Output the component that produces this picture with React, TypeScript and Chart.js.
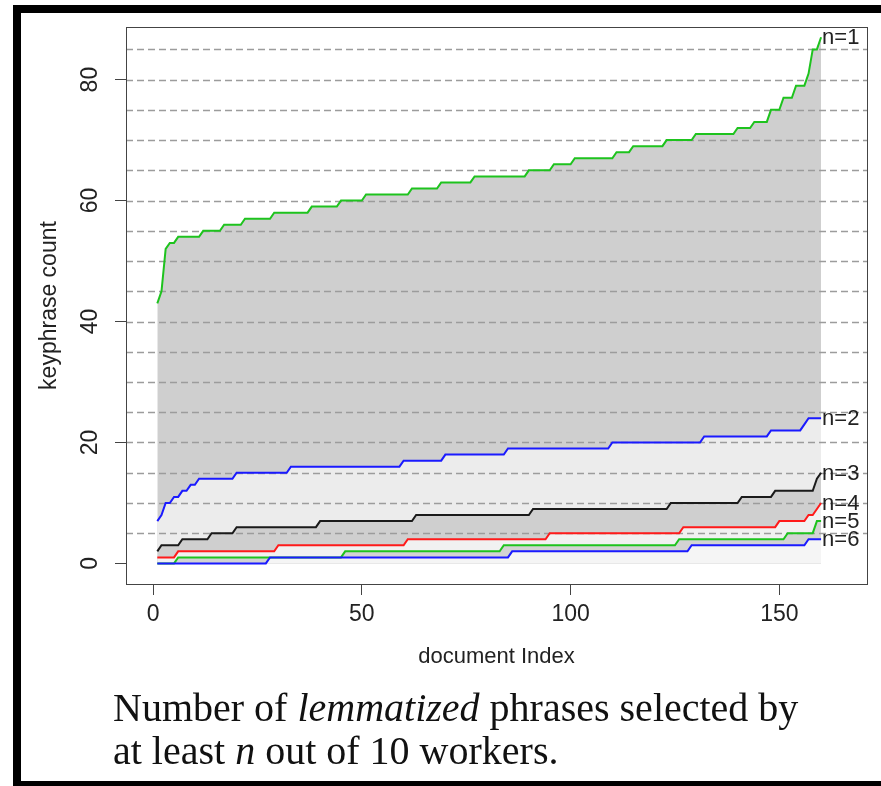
import React, { useEffect, useRef } from 'react';
import { Chart, registerables } from 'chart.js';

Chart.register(...registerables);

// ---- data ----
const xTicks = [0, 50, 100, 150];
const yTicks = [0, 20, 40, 60, 80];
const dashLevels = [5, 10, 15, 20, 25, 30, 35, 40, 45, 50, 55, 60, 65, 70, 75, 80, 85];
const seriesNames = ['n=1', 'n=2', 'n=3', 'n=4', 'n=5', 'n=6'];

const n1 = [
  43, 45, 52, 53, 53, 54, 54, 54, 54, 54,
  54, 55, 55, 55, 55, 55, 56, 56, 56, 56,
  56, 57, 57, 57, 57, 57, 57, 57, 58, 58,
  58, 58, 58, 58, 58, 58, 58, 59, 59, 59,
  59, 59, 59, 59, 60, 60, 60, 60, 60, 60,
  61, 61, 61, 61, 61, 61, 61, 61, 61, 61,
  61, 62, 62, 62, 62, 62, 62, 62, 63, 63,
  63, 63, 63, 63, 63, 63, 64, 64, 64, 64,
  64, 64, 64, 64, 64, 64, 64, 64, 64, 65,
  65, 65, 65, 65, 65, 66, 66, 66, 66, 66,
  67, 67, 67, 67, 67, 67, 67, 67, 67, 67,
  68, 68, 68, 68, 69, 69, 69, 69, 69, 69,
  69, 69, 70, 70, 70, 70, 70, 70, 70, 71,
  71, 71, 71, 71, 71, 71, 71, 71, 71, 72,
  72, 72, 72, 73, 73, 73, 73, 75, 75, 75,
  77, 77, 77, 79, 79, 79, 81, 85, 85, 87,
];

const n2 = [
  7, 8, 10, 10, 11, 11, 12, 12, 13, 13,
  14, 14, 14, 14, 14, 14, 14, 14, 14, 15,
  15, 15, 15, 15, 15, 15, 15, 15, 15, 15,
  15, 15, 16, 16, 16, 16, 16, 16, 16, 16,
  16, 16, 16, 16, 16, 16, 16, 16, 16, 16,
  16, 16, 16, 16, 16, 16, 16, 16, 16, 17,
  17, 17, 17, 17, 17, 17, 17, 17, 17, 18,
  18, 18, 18, 18, 18, 18, 18, 18, 18, 18,
  18, 18, 18, 18, 19, 19, 19, 19, 19, 19,
  19, 19, 19, 19, 19, 19, 19, 19, 19, 19,
  19, 19, 19, 19, 19, 19, 19, 19, 19, 20,
  20, 20, 20, 20, 20, 20, 20, 20, 20, 20,
  20, 20, 20, 20, 20, 20, 20, 20, 20, 20,
  20, 21, 21, 21, 21, 21, 21, 21, 21, 21,
  21, 21, 21, 21, 21, 21, 21, 22, 22, 22,
  22, 22, 22, 22, 22, 23, 24, 24, 24, 24,
];

const n3 = [
  2, 3, 3, 3, 3, 3, 4, 4, 4, 4,
  4, 4, 4, 5, 5, 5, 5, 5, 5, 6,
  6, 6, 6, 6, 6, 6, 6, 6, 6, 6,
  6, 6, 6, 6, 6, 6, 6, 6, 6, 7,
  7, 7, 7, 7, 7, 7, 7, 7, 7, 7,
  7, 7, 7, 7, 7, 7, 7, 7, 7, 7,
  7, 7, 8, 8, 8, 8, 8, 8, 8, 8,
  8, 8, 8, 8, 8, 8, 8, 8, 8, 8,
  8, 8, 8, 8, 8, 8, 8, 8, 8, 8,
  9, 9, 9, 9, 9, 9, 9, 9, 9, 9,
  9, 9, 9, 9, 9, 9, 9, 9, 9, 9,
  9, 9, 9, 9, 9, 9, 9, 9, 9, 9,
  9, 9, 9, 10, 10, 10, 10, 10, 10, 10,
  10, 10, 10, 10, 10, 10, 10, 10, 10, 10,
  11, 11, 11, 11, 11, 11, 11, 11, 12, 12,
  12, 12, 12, 12, 12, 12, 12, 12, 14, 15,
];

const n4 = [
  1, 1, 1, 1, 1, 2, 2, 2, 2, 2,
  2, 2, 2, 2, 2, 2, 2, 2, 2, 2,
  2, 2, 2, 2, 2, 2, 2, 2, 2, 3,
  3, 3, 3, 3, 3, 3, 3, 3, 3, 3,
  3, 3, 3, 3, 3, 3, 3, 3, 3, 3,
  3, 3, 3, 3, 3, 3, 3, 3, 3, 3,
  4, 4, 4, 4, 4, 4, 4, 4, 4, 4,
  4, 4, 4, 4, 4, 4, 4, 4, 4, 4,
  4, 4, 4, 4, 4, 4, 4, 4, 4, 4,
  4, 4, 4, 4, 5, 5, 5, 5, 5, 5,
  5, 5, 5, 5, 5, 5, 5, 5, 5, 5,
  5, 5, 5, 5, 5, 5, 5, 5, 5, 5,
  5, 5, 5, 5, 5, 5, 6, 6, 6, 6,
  6, 6, 6, 6, 6, 6, 6, 6, 6, 6,
  6, 6, 6, 6, 6, 6, 6, 6, 6, 7,
  7, 7, 7, 7, 7, 7, 8, 8, 9, 10,
];

const n5 = [
  0, 0, 0, 0, 0, 1, 1, 1, 1, 1,
  1, 1, 1, 1, 1, 1, 1, 1, 1, 1,
  1, 1, 1, 1, 1, 1, 1, 1, 1, 1,
  1, 1, 1, 1, 1, 1, 1, 1, 1, 1,
  1, 1, 1, 1, 1, 2, 2, 2, 2, 2,
  2, 2, 2, 2, 2, 2, 2, 2, 2, 2,
  2, 2, 2, 2, 2, 2, 2, 2, 2, 2,
  2, 2, 2, 2, 2, 2, 2, 2, 2, 2,
  2, 2, 2, 3, 3, 3, 3, 3, 3, 3,
  3, 3, 3, 3, 3, 3, 3, 3, 3, 3,
  3, 3, 3, 3, 3, 3, 3, 3, 3, 3,
  3, 3, 3, 3, 3, 3, 3, 3, 3, 3,
  3, 3, 3, 3, 3, 4, 4, 4, 4, 4,
  4, 4, 4, 4, 4, 4, 4, 4, 4, 4,
  4, 4, 4, 4, 4, 4, 4, 4, 4, 4,
  4, 5, 5, 5, 5, 5, 5, 5, 7, 7,
];

const n6 = [
  0, 0, 0, 0, 0, 0, 0, 0, 0, 0,
  0, 0, 0, 0, 0, 0, 0, 0, 0, 0,
  0, 0, 0, 0, 0, 0, 0, 1, 1, 1,
  1, 1, 1, 1, 1, 1, 1, 1, 1, 1,
  1, 1, 1, 1, 1, 1, 1, 1, 1, 1,
  1, 1, 1, 1, 1, 1, 1, 1, 1, 1,
  1, 1, 1, 1, 1, 1, 1, 1, 1, 1,
  1, 1, 1, 1, 1, 1, 1, 1, 1, 1,
  1, 1, 1, 1, 1, 2, 2, 2, 2, 2,
  2, 2, 2, 2, 2, 2, 2, 2, 2, 2,
  2, 2, 2, 2, 2, 2, 2, 2, 2, 2,
  2, 2, 2, 2, 2, 2, 2, 2, 2, 2,
  2, 2, 2, 2, 2, 2, 2, 2, 3, 3,
  3, 3, 3, 3, 3, 3, 3, 3, 3, 3,
  3, 3, 3, 3, 3, 3, 3, 3, 3, 3,
  3, 3, 3, 3, 3, 3, 4, 4, 4, 4,
];

const lineColors = ['#1ec31e', '#1a1aff', '#1a1a1a', '#ff1a1a', '#1ec31e', '#1a1aff'];
const fillColors = ['#cfcfcf', '#ececec', '#cfcfcf', '#f1f1f1', '#d3d3d3', '#f5f5f5'];

const SANS = '"Liberation Sans", Arial, Helvetica, sans-serif';
const SERIF = '"Liberation Serif", "DejaVu Serif", "Times New Roman", serif';

export default function App() {
  const ref = useRef<HTMLCanvasElement>(null);

  useEffect(() => {
    const canvas = ref.current;
    if (!canvas) return;
    const series = [n1, n2, n3, n4, n5, n6];

    const datasets = series.map((vals, k) => ({
      label: seriesNames[k],
      data: vals.map((v, i) => ({ x: i + 1, y: v })),
      borderColor: lineColors[k],
      backgroundColor: fillColors[k],
      borderWidth: 2,
      pointRadius: 0,
      pointHoverRadius: 0,
      tension: 0,
      fill: 'origin' as const,
      order: 6 - k,
    }));

    const dashPlugin = {
      id: 'dashLevels',
      beforeDatasetsDraw(chart: any) {
        const { ctx, chartArea } = chart;
        const ys = chart.scales.y;
        ctx.save();
        ctx.strokeStyle = '#9c9c9c';
        ctx.lineWidth = 1.3;
        ctx.setLineDash([7, 4]);
        for (const lv of dashLevels) {
          const py = Math.round(ys.getPixelForValue(lv)) + 0.5;
          ctx.beginPath();
          ctx.moveTo(chartArea.left, py);
          ctx.lineTo(chartArea.right, py);
          ctx.stroke();
        }
        ctx.restore();
      },
    };

    const labelPlugin = {
      id: 'endLabels',
      afterDatasetsDraw(chart: any) {
        const { ctx } = chart;
        const xs = chart.scales.x;
        const ys = chart.scales.y;
        ctx.save();
        ctx.font = `22px ${SANS}`;
        ctx.fillStyle = '#222';
        ctx.textAlign = 'left';
        ctx.textBaseline = 'middle';
        series.forEach((vals, k) => {
          const last = vals[vals.length - 1];
          const px = xs.getPixelForValue(vals.length) + 1;
          const py = ys.getPixelForValue(last) + 1;
          ctx.fillText(seriesNames[k], px, py);
        });
        ctx.restore();
      },
    };

    const boxPlugin = {
      id: 'plotBox',
      afterDraw(chart: any) {
        const { ctx, chartArea } = chart;
        ctx.save();
        ctx.strokeStyle = '#444';
        ctx.lineWidth = 1;
        ctx.setLineDash([]);
        ctx.strokeRect(
          Math.round(chartArea.left) + 0.5,
          Math.round(chartArea.top) + 0.5,
          Math.round(chartArea.right - chartArea.left),
          Math.round(chartArea.bottom - chartArea.top)
        );
        ctx.restore();
      },
    };

    const chart = new Chart(canvas, {
      type: 'line',
      data: { datasets: datasets as any },
      options: {
        responsive: false,
        animation: false,
        events: [],
        layout: { padding: { left: 0, top: 27, right: 14, bottom: 106 } },
        plugins: {
          legend: { display: false },
          tooltip: { enabled: false },
          filler: { propagate: false, drawTime: 'beforeDatasetsDraw' },
        },
        scales: {
          x: {
            type: 'linear',
            min: -6.5,
            max: 171,
            afterBuildTicks: (s: any) => {
              s.ticks = xTicks.map((v) => ({ value: v }));
            },
            afterFit: (s: any) => {
              s.height = 96;
            },
            grid: { drawOnChartArea: false, drawTicks: true, tickLength: 11, color: '#444', lineWidth: 1 },
            border: { display: false },
            ticks: { font: { family: SANS, size: 23 }, color: '#222', padding: 6, maxRotation: 0, minRotation: 0 },
            title: {
              display: true,
              text: 'document Index',
              font: { family: SANS, size: 22 },
              color: '#222',
              padding: { top: 0, bottom: 10 },
            },
          },
          y: {
            type: 'linear',
            min: -3.4,
            max: 88.7,
            afterBuildTicks: (s: any) => {
              s.ticks = yTicks.map((v) => ({ value: v }));
            },
            afterFit: (s: any) => {
              s.width = 126;
            },
            grid: { drawOnChartArea: false, drawTicks: true, tickLength: 11, color: '#444', lineWidth: 1 },
            border: { display: false },
            ticks: {
              font: { family: SANS, size: 23 },
              color: '#222',
              padding: 12,
              minRotation: 90,
              maxRotation: 90,
              crossAlign: 'center',
            },
            title: {
              display: true,
              text: 'keyphrase count',
              font: { family: SANS, size: 23 },
              color: '#222',
              padding: { top: 36, bottom: 0 },
            },
          },
        },
      },
      plugins: [dashPlugin, labelPlugin, boxPlugin],
    });

    return () => {
      chart.destroy();
    };
  }, []);

  return (
    <div
      style={{
        position: 'fixed',
        left: 0,
        top: 0,
        width: 881,
        height: 786,
        overflow: 'hidden',
        background: '#fff',
      }}
    >
      <div
        style={{
          position: 'absolute',
          left: 13,
          top: 5,
          right: -20,
          bottom: 0,
          borderLeft: '8px solid #000',
          borderTop: '8px solid #000',
          borderBottom: '5px solid #000',
          boxSizing: 'border-box',
        }}
      />
      <canvas
        ref={ref}
        width={881}
        height={786}
        style={{ position: 'absolute', left: 0, top: 0, width: 881, height: 786 }}
      />
      <div
        style={{
          position: 'absolute',
          left: 113,
          top: 686,
          fontFamily: SERIF,
          fontSize: 40,
          lineHeight: '43px',
          color: '#111',
          whiteSpace: 'nowrap',
        }}
      >
        <div>
          Number of <i>lemmatized</i> phrases selected by
        </div>
        <div>
          at least <i>n</i> out of 10 workers.
        </div>
      </div>
    </div>
  );
}
